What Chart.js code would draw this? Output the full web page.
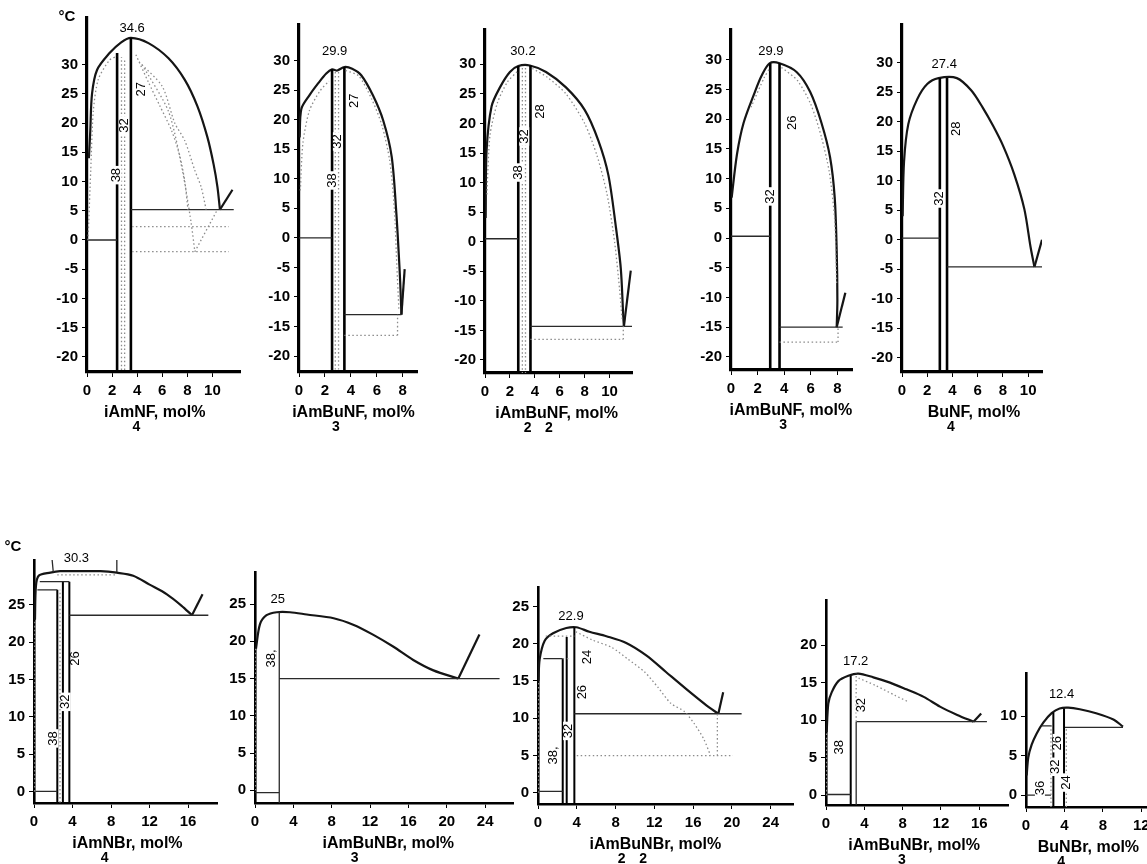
<!DOCTYPE html>
<html>
<head>
<meta charset="utf-8">
<script src="https://cdn.jsdelivr.net/npm/chart.js@4/dist/chart.umd.min.js"></script>
<style>
  body { margin: 0; width: 1147px; height: 864px; overflow: hidden; background: #fff; position: relative; }
  canvas { position: absolute; }
</style>
</head>
<body>
<script>
'use strict';

// ---- tick values ----
const nfTempTicks = [-20, -15, -10, -5, 0, 5, 10, 15, 20, 25, 30];
const nfConcTicks10 = [0, 2, 4, 6, 8, 10];
const nfConcTicks8 = [0, 2, 4, 6, 8];
const br4TempTicks = [0, 5, 10, 15, 20, 25];
const br1TempTicks = [0, 5, 10, 15, 20];
const br0TempTicks = [0, 5, 10];
const br4ConcTicks = [0, 4, 8, 12, 16];
const br3ConcTicks = [0, 4, 8, 12, 16, 20, 24];
const br0ConcTicks = [0, 4, 8, 12];

// ---- axis titles (subscript = [digit, text it follows]) ----
const xTitles = ['iAmNF, mol%', 'iAmBuNF, mol%', 'iAmBuNF, mol%', 'iAmBuNF, mol%', 'BuNF, mol%',
                 'iAmNBr, mol%', 'iAmBuNBr, mol%', 'iAmBuNBr, mol%', 'iAmBuNBr, mol%', 'BuNBr, mol%'];
const xTitleCenters = [5.4, 4.2, 5.75, 4.5, 5.7, 9.7, 13.9, 12.1, 9.2, 6.5];
const xSubscripts = [[['4', 'iAm']], [['3', 'iAmB']], [['2', 'iAm'], ['2', 'iAmBu']], [['3', 'iAmBu']], [['4', 'Bu']],
                     [['4', 'iAm']], [['3', 'iAm']], [['2', 'iAm'], ['2', 'iAmBu']], [['3', 'iAmBu']], [['4', 'Bu']]];

// ---- iAm4NF ----  points [mol%, °C], segments [x1, y1, x2, y2]
const nf4Liquidus = [[0.15, 14], [0.26, 18.6], [0.4, 25], [0.8, 29.1], [1.8, 32], [2.7, 33.8], [3.5, 34.6], [4.9, 33.7],
  [6.5, 31.1], [7.8, 27.4], [8.8, 22.9], [9.6, 17.6], [10.1, 12.9], [10.4, 9.1], [10.6, 5.2]];
const nf4Branch = [[10.6, 5.2], [11.6, 8.6]];
const nf4Heavy = [[2.4, -25, 2.4, 32], [3.5, -25, 3.5, 34.6]];
const nf4Light = [[0, 0, 2.4, 0], [3.5, 5.2, 11.7, 5.2]];
const nf4Dotted = [
  [[2.75, -25], [2.75, 31.3]], [[3.0, -25], [3.0, 31]],
  [[3.6, 2.3], [11.3, 2.3]], [[3.6, -2], [11.3, -2]], [[8.6, -2], [10.4, 5.2]],
  [[3.9, 31.7], [4.9, 27], [5.8, 23], [6.75, 18.7], [7.4, 14.4], [7.8, 10], [8.05, 5.2]],
  [[4.15, 30.5], [6, 26.3], [7, 20], [7.8, 17], [8.6, 11.9], [9.1, 9.1], [9.5, 5.2]],
  [[4.4, 30], [6.5, 22], [7.6, 12], [8.3, 3], [8.6, -2]],
  [[0.08, 0], [0.3, 12], [0.5, 22], [0.9, 27.5], [1.8, 30.8], [2.4, 31.5]]
];
const nf4Labels = [['34.6', 3.6, 36.3, false], ['38', 2.35, 11.1, true], ['32', 2.95, 19.6, true], ['27', 4.3, 25.8, true]];

// ---- iAm3BuNF ----
const nf3Liquidus = [[0.05, 17], [0.18, 21.8], [0.8, 24.1], [1.5, 26.2], [2.1, 27.8], [2.55, 28.5], [2.95, 28.3], [3.5, 28.9],
  [4.1, 28.6], [4.8, 27.5], [5.7, 24.1], [6.5, 19.8], [7.15, 13.7], [7.5, 4.4], [7.75, -5], [7.85, -10], [7.9, -13]];
const nf3Branch = [[7.9, -13], [8.15, -5.3]];
const nf3Heavy = [[2.55, -25, 2.55, 28.5], [3.5, -25, 3.5, 28.9]];
const nf3Light = [[0, 0, 2.55, 0], [3.5, -13, 7.9, -13]];
const nf3Dotted = [
  [[2.8, -25], [2.8, 28.2]], [[3.05, -25], [3.05, 28.4]],
  [[3.5, -16.5], [7.6, -16.5]], [[7.6, -16.5], [7.6, -13]],
  [[0.1, 8], [0.3, 16], [0.8, 21.5], [1.6, 24.8], [2.3, 26.5]],
  [[3.6, 28.3], [4.6, 27.4], [5.6, 23.5], [6.4, 19], [7, 13], [7.35, 5], [7.55, -5], [7.7, -12]]
];
const nf3Labels = [['29.9', 2.75, 31.6, false], ['38', 2.55, 9.7, true], ['32', 3.0, 16.3, true], ['27', 4.3, 23.2, true]];

// ---- iAm2Bu2NF ----
const nf2Liquidus = [[0.05, 4], [0.13, 15.5], [0.53, 22.9], [1.2, 26.1], [2, 28.7], [2.67, 29.7], [3.6, 29.8], [4.9, 28.7],
  [6.5, 26.1], [8, 22.3], [9.1, 17.1], [9.9, 11.3], [10.5, 2.6], [10.9, -4.5], [11.1, -12.7], [11.15, -14.3]];
const nf2Branch = [[11.15, -14.3], [11.7, -4.9]];
const nf2Heavy = [[2.67, -25, 2.67, 29.7], [3.65, -25, 3.65, 29.8]];
const nf2Light = [[0, 0.5, 2.67, 0.5], [3.65, -14.3, 11.8, -14.3]];
const nf2Dotted = [
  [[3.0, -25], [3.0, 29.5]], [[3.25, -25], [3.25, 29.5]],
  [[3.65, -16.5], [11.1, -16.5]], [[11.1, -16.5], [11.1, -14.3]],
  [[0.15, 8], [0.4, 18], [1, 23.5], [1.8, 27], [2.6, 28.8]],
  [[3.8, 29.3], [5, 27.8], [6.5, 25], [8, 20], [9, 14.5], [9.8, 8], [10.4, 0], [10.8, -8], [11, -13]]
];
const nf2Labels = [['30.2', 3.05, 32.2, false], ['38', 2.67, 11.7, true], ['32', 3.15, 17.8, true], ['28', 4.45, 22, true]];

// ---- iAmBu3NF ----
const nf1Liquidus = [[0.05, 6.8], [0.45, 14.1], [0.95, 19.4], [1.8, 24.6], [2.3, 27.3], [2.9, 29.4], [3.65, 29.4], [4.95, 27.9],
  [5.95, 24.6], [6.8, 19.4], [7.45, 13.6], [7.8, 6.8], [7.95, -2.2], [8, -10.5], [7.95, -15]];
const nf1Branch = [[7.95, -15], [8.6, -9.2]];
const nf1Heavy = [[2.95, -25, 2.95, 29.4], [3.65, -25, 3.65, 29.4]];
const nf1Light = [[0, 0.3, 2.95, 0.3], [3.65, -15, 8.4, -15]];
const nf1Dotted = [
  [[3.65, -17.5], [8.05, -17.5]], [[8.05, -17.5], [8.05, -15]],
  [[1.5, 22], [2.5, 27], [2.9, 28.5]],
  [[3.8, 28.7], [5, 26.5], [6, 22.5], [6.8, 17], [7.4, 11], [7.8, 3], [7.95, -8]]
];
const nf1Labels = [['29.9', 3.0, 31.4, false], ['32', 2.95, 7, true], ['26', 4.6, 19.4, true]];

// ---- Bu4NF ----
const nf0Liquidus = [[0.05, 4], [0.16, 13.2], [0.5, 19.6], [1.2, 23.8], [2, 26.4], [2.9, 27.4], [4.35, 27.4], [5.5, 25.3],
  [6.4, 22.4], [7.2, 19.4], [8, 16], [8.9, 11.1], [9.7, 5.2], [10.2, -1.3], [10.5, -4.6]];
const nf0Branch = [[10.5, -4.6], [11.1, 0]];
const nf0Heavy = [[3.0, -25, 3.0, 27.4], [3.57, -25, 3.57, 27.4]];
const nf0Light = [[0, 0.3, 3.0, 0.3], [3.57, -4.6, 11.2, -4.6]];
const nf0Dotted = [];
const nf0Labels = [['27.4', 3.35, 29.7, false], ['32', 3.0, 7, true], ['28', 4.35, 18.8, true]];

// ---- iAm4NBr ----
const br4Liquidus = [[0.1, 23], [0.2, 27.5], [0.5, 28.9], [1.7, 29.3], [2.7, 29.5], [4.5, 29.5], [6.9, 29.5], [8.6, 29.3],
  [10.3, 28.9], [12, 27.7], [13.8, 26.4], [15.3, 24.9], [16.4, 23.6]];
const br4Branch = [[16.4, 23.6], [17.5, 26.4]];
const br4Heavy = [[2.42, -2, 2.42, 27], [3.0, -2, 3.0, 28.1], [3.67, -2, 3.67, 28.1]];
const br4Light = [[0.35, 27, 2.42, 27], [0.6, 28.1, 3.67, 28.1], [0, 0, 2.42, 0], [3.67, 23.6, 18.1, 23.6],
  [1.84, 31.6, 2.0, 29.4], [8.6, 31.4, 8.6, 29.4]];
const br4Dotted = [[[2.42, 29], [8.6, 29]], [[2.7, -2], [2.7, 27]], [[0.08, 0], [0.08, 23]]];
const br4Labels = [['30.3', 4.4, 31.2, false], ['38', 2.0, 7.1, true], ['32', 3.3, 12, true], ['26', 4.35, 17.8, true]];

// ---- iAm3BuNBr ----
const br3Liquidus = [[0.1, 19], [0.52, 22.3], [1.2, 23.5], [2.26, 23.9], [3.65, 23.9], [5.4, 23.6], [8.2, 23.1], [10.3, 22.2],
  [12.3, 20.9], [14.4, 19.3], [16.5, 17.5], [18.6, 16.1], [21.2, 15]];
const br3Branch = [[21.2, 15], [23.4, 20.9]];
const br3Heavy = [];
const br3Light = [[2.53, -2, 2.53, 23.9], [2.53, 15, 25.5, 15], [0, -0.3, 2.53, -0.3]];
const br3Dotted = [[[0.06, 0], [0.06, 19]]];
const br3Labels = [['25', 2.37, 25.6, false], ['38,', 1.7, 17.7, true]];

// ---- iAm2Bu2NBr ----
const br2Liquidus = [[0.05, 15], [0.17, 17.9], [0.69, 20.4], [1.55, 21.4], [2.92, 22.1], [3.95, 22.2], [5.3, 21.6], [7.05, 21],
  [9.1, 20.1], [11.2, 18.4], [13.2, 16.2], [15.3, 13.9], [17.4, 11.7], [18.6, 10.6]];
const br2Branch = [[18.6, 10.6], [19.1, 13.5]];
const br2Heavy = [[2.55, -2, 2.55, 18], [2.96, -2, 2.96, 20.9], [3.75, -2, 3.75, 22.2]];
const br2Light = [[0.55, 18, 2.55, 18], [3.75, 10.6, 21, 10.6], [0, 0.2, 2.55, 0.2]];
const br2Dotted = [
  [[2.55, 18], [3.2, 18]], [[0.8, 21], [3.75, 21]],
  [[3.9, 21.6], [5.6, 20.5], [7.6, 19.5], [9.3, 17.9], [11, 16.2], [12.4, 14.1], [13.7, 12], [15.1, 10.9], [16.1, 9.3], [17.1, 7.2], [17.8, 5]],
  [[4, 5], [20.1, 5]], [[18.5, 5], [18.5, 10.6]], [[0.06, 0], [0.06, 15]]
];
const br2Labels = [['22.9', 3.4, 23.6, false], ['24', 5.1, 18.2, true], ['26', 4.6, 13.5, true], ['32', 3.1, 8.3, true], ['38,', 1.6, 5, true]];

// ---- iAmBu3NBr ----
const br1Liquidus = [[0.07, 8.4], [0.24, 12.2], [0.59, 13.7], [1.29, 15.2], [2.33, 15.9], [3.37, 16.2], [4.94, 15.7], [6.68, 15],
  [8.4, 14.1], [10.2, 13.1], [11.9, 11.8], [13.7, 10.7], [15.4, 9.8]];
const br1Branch = [[15.4, 9.8], [16.2, 10.9]];
const br1Heavy = [[2.58, -2, 2.58, 15.9]];
const br1Light = [[3.15, -2, 3.15, 9.8], [3.15, 9.8, 16.8, 9.8], [0, 0.1, 2.58, 0.1]];
const br1Dotted = [[[3.15, 9.8], [3.15, 16.2]], [[3.4, 15.6], [5.2, 14.6], [7.2, 13.3], [8.5, 12.5]], [[0.06, 0], [0.06, 8.4]]];
const br1Labels = [['17.2', 3.1, 17.85, false], ['38', 1.4, 6.4, true], ['32', 3.7, 12, true]];

// ---- Bu4NBr ----
const br0Liquidus = [[0.07, 2.5], [0.24, 4.8], [0.59, 6.4], [1.1, 7.8], [1.8, 9.2], [2.67, 10.4], [3.5, 11], [4.4, 11.1],
  [5.6, 10.9], [7.3, 10.4], [9.1, 9.6], [10.1, 8.7]];
const br0Branch = [];
const br0Heavy = [[2.85, -2, 2.85, 10.5], [3.96, -2, 3.96, 11]];
const br0Light = [[1.6, 8.8, 2.67, 8.8], [4.06, 8.6, 10.1, 8.6], [0, 0, 2.6, 0]];
const br0Dotted = [[[2.6, -2], [2.6, 8.8]], [[4.2, -2], [4.2, 8.6]]];
const br0Labels = [['12.4', 3.7, 12.8, false], ['36', 1.45, 0.9, true], ['32', 3.1, 3.6, true], ['26', 3.3, 6.6, true], ['24', 4.2, 1.6, true]];

// ---- layout (page pixels of each plot frame + axis ranges) ----
const AXIS_W = 34, AXIS_H = 62, PAD_T = 22, PAD_R = 10;
const FAMILY = '"Liberation Sans", Arial, sans-serif';
const TICK_FONT = { family: '"Liberation Sans Narrow", "Arial Narrow", "Liberation Sans", Arial, sans-serif', size: 15, weight: 'bold' };

const panels = [
  { left: 87, top: 18, right: 240, bottom: 372, xMax: 12.2, yMin: -22.6, yMax: 38, xTicks: nfConcTicks10, yTicks: nfTempTicks,
    liq: nf4Liquidus, branch: nf4Branch, heavy: nf4Heavy, light: nf4Light, dotted: nf4Dotted, labels: nf4Labels, degree: [-20, -1] },
  { left: 299, top: 25, right: 417, bottom: 372, xMax: 9.1, yMin: -22.7, yMax: 36, xTicks: nfConcTicks8, yTicks: nfTempTicks,
    liq: nf3Liquidus, branch: nf3Branch, heavy: nf3Heavy, light: nf3Light, dotted: nf3Dotted, labels: nf3Labels },
  { left: 485, top: 30, right: 632, bottom: 373, xMax: 11.8, yMin: -22.2, yMax: 35.8, xTicks: nfConcTicks10, yTicks: nfTempTicks,
    liq: nf2Liquidus, branch: nf2Branch, heavy: nf2Heavy, light: nf2Light, dotted: nf2Dotted, labels: nf2Labels },
  { left: 731, top: 30, right: 852, bottom: 370, xMax: 9.1, yMin: -22.2, yMax: 35, xTicks: nfConcTicks8, yTicks: nfTempTicks,
    liq: nf1Liquidus, branch: nf1Branch, heavy: nf1Heavy, light: nf1Light, dotted: nf1Dotted, labels: nf1Labels },
  { left: 902, top: 25, right: 1042, bottom: 372, xMax: 11.1, yMin: -22.4, yMax: 36.4, xTicks: nfConcTicks10, yTicks: nfTempTicks,
    liq: nf0Liquidus, branch: nf0Branch, heavy: nf0Heavy, light: nf0Light, dotted: nf0Dotted, labels: nf0Labels },
  { left: 34, top: 560, right: 217, bottom: 803, xMax: 19, yMin: -1.55, yMax: 31, xTicks: br4ConcTicks, yTicks: br4TempTicks,
    liq: br4Liquidus, branch: br4Branch, heavy: br4Heavy, light: br4Light, dotted: br4Dotted, labels: br4Labels, degree: [-21, -13] },
  { left: 255, top: 572, right: 513, bottom: 803, xMax: 26.9, yMin: -1.7, yMax: 29.3, xTicks: br3ConcTicks, yTicks: br4TempTicks,
    liq: br3Liquidus, branch: br3Branch, heavy: br3Heavy, light: br3Light, dotted: br3Dotted, labels: br3Labels },
  { left: 538, top: 587, right: 793, bottom: 804, xMax: 26.3, yMin: -1.5, yMax: 27.6, xTicks: br3ConcTicks, yTicks: br4TempTicks,
    liq: br2Liquidus, branch: br2Branch, heavy: br2Heavy, light: br2Light, dotted: br2Dotted, labels: br2Labels },
  { left: 826, top: 600, right: 1008, bottom: 805, xMax: 19, yMin: -1.3, yMax: 26, xTicks: br4ConcTicks, yTicks: br1TempTicks,
    liq: br1Liquidus, branch: br1Branch, heavy: br1Heavy, light: br1Light, dotted: br1Dotted, labels: br1Labels },
  { left: 1026, top: 673, right: 1147, bottom: 807, xMax: 12.6, yMin: -1.5, yMax: 15.5, xTicks: br0ConcTicks, yTicks: br0TempTicks,
    liq: br0Liquidus, branch: br0Branch, heavy: br0Heavy, light: br0Light, dotted: br0Dotted, labels: br0Labels }
];

// value labels, rotated composition labels, axis title with subscripts, °C
const diagramText = {
  id: 'diagramText',
  afterDatasetsDraw(chart, args, opts) {
    const { ctx, chartArea: area } = chart;
    const xs = chart.scales.x, ys = chart.scales.y;
    ctx.save();
    ctx.textAlign = 'center';
    ctx.textBaseline = 'middle';
    ctx.font = '13px ' + FAMILY;
    opts.labels.forEach(([text, vx, vy, turned]) => {
      ctx.save();
      ctx.translate(xs.getPixelForValue(vx), ys.getPixelForValue(vy));
      if (turned) {
        ctx.rotate(-Math.PI / 2);
        const w = ctx.measureText(text).width;
        ctx.fillStyle = '#fff';
        ctx.fillRect(-w / 2 - 2, -5, w + 4, 10);
      }
      ctx.fillStyle = '#000';
      ctx.fillText(text, 0, 0);
      ctx.restore();
    });

    ctx.fillStyle = '#000';
    ctx.font = 'bold 16px ' + FAMILY;
    const tx = xs.getPixelForValue(opts.titleAt), ty = area.bottom + 41;
    ctx.fillText(opts.title, tx, ty);
    const tw = ctx.measureText(opts.title).width;
    opts.subs.forEach(([digit, prefix]) => {
      ctx.font = 'bold 16px ' + FAMILY;
      const dx = ctx.measureText(prefix).width - tw / 2;
      ctx.font = 'bold 14px ' + FAMILY;
      ctx.fillText(digit, tx + dx + 2, ty + 14);
    });

    if (opts.degree) {
      ctx.font = 'bold 15px ' + FAMILY;
      ctx.fillText('°C', area.left + opts.degree[0], area.top + opts.degree[1]);
    }
    ctx.restore();
  }
};

function segments(list) {
  const pts = [];
  list.forEach(([x1, y1, x2, y2]) => pts.push({ x: x1, y: y1 }, { x: x2, y: y2 }, { x: x2, y: null }));
  return pts;
}

function polylines(list) {
  const pts = [];
  list.forEach(line => {
    line.forEach(([x, y]) => pts.push({ x, y }));
    pts.push({ x: line[line.length - 1][0], y: null });
  });
  return pts;
}

function lineSet(data, width, color, dash, tension) {
  return { data, showLine: true, borderColor: color, borderWidth: width, borderDash: dash,
           pointRadius: 0, pointHoverRadius: 0, tension, spanGaps: false, fill: false };
}

panels.forEach((p, i) => {
  const top = i < 5;
  const w = p.right - p.left + AXIS_W + PAD_R;
  const h = p.bottom - p.top + PAD_T + AXIS_H;
  const canvas = document.createElement('canvas');
  canvas.width = w;
  canvas.height = h;
  canvas.style.left = (p.left - AXIS_W) + 'px';
  canvas.style.top = (p.top - PAD_T) + 'px';
  canvas.style.width = w + 'px';
  canvas.style.height = h + 'px';
  document.body.appendChild(canvas);

  const datasets = [
    lineSet(polylines(p.dotted), 1.3, '#8c8c8c', [1.5, 2.5], 0.25),
    lineSet(segments(p.light), 1.3, '#2a2a2a', [], 0),
    lineSet(segments(p.heavy), top ? 2.6 : 2, '#000', [], 0),
    lineSet(p.liq.map(([x, y]) => ({ x, y })), 2.2, '#151515', [], 0.3),
    lineSet(p.branch.map(([x, y]) => ({ x, y })), 2.2, '#151515', [], 0)
  ];

  const axisStyle = (ticks, fitter, pad) => ({
    type: 'linear',
    afterFit: fitter,
    afterBuildTicks: s => { s.ticks = ticks.map(v => ({ value: v })); },
    grid: { display: true, drawOnChartArea: false, drawTicks: true, tickLength: 5, color: '#000', lineWidth: 1 },
    border: { display: true, color: '#000', width: top ? 3.2 : 2.6 },
    ticks: { color: '#000', font: TICK_FONT, padding: pad, autoSkip: false, maxRotation: 0 }
  });

  new Chart(canvas, {
    type: 'scatter',
    data: { datasets },
    options: {
      responsive: false,
      animation: false,
      devicePixelRatio: 1,
      events: [],
      layout: { autoPadding: false, padding: { top: PAD_T, right: PAD_R, left: 0, bottom: 0 } },
      plugins: {
        legend: { display: false },
        tooltip: { enabled: false },
        diagramText: { labels: p.labels, title: xTitles[i], titleAt: xTitleCenters[i], subs: xSubscripts[i], degree: p.degree }
      },
      scales: {
        x: Object.assign(axisStyle(p.xTicks, s => { s.height = AXIS_H; }, 5), { min: 0, max: p.xMax }),
        y: Object.assign(axisStyle(p.yTicks, s => { s.width = AXIS_W; }, 4), { min: p.yMin, max: p.yMax })
      }
    },
    plugins: [diagramText]
  });
});
</script>
</body>
</html>
